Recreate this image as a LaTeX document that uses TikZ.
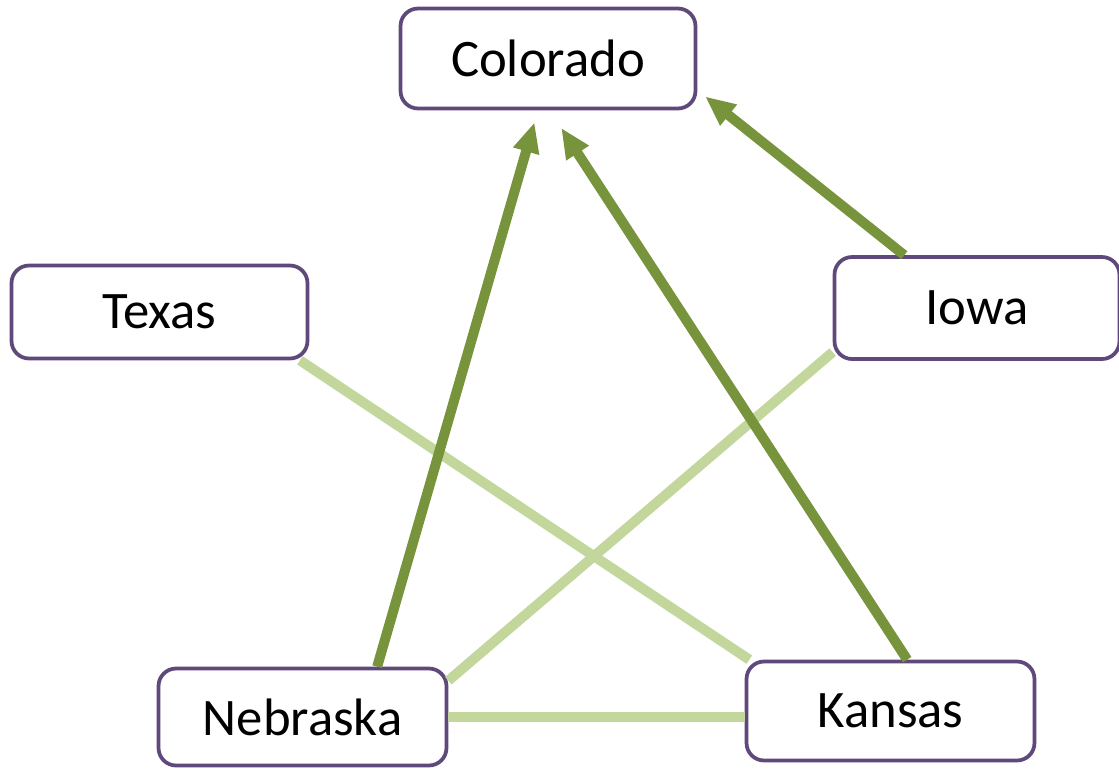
\documentclass[tikz,border=0pt]{standalone}
\usepackage{fontspec}
\setmainfont{Carlito}
\usetikzlibrary{arrows.meta}
\definecolor{boxpurple}{HTML}{5F497A}
\definecolor{darkgreen}{HTML}{77933C}
\definecolor{lightgreen}{HTML}{C3D69B}

\begin{document}
\begin{tikzpicture}[x=0.02cm, y=-0.02cm,
    state/.style={draw=boxpurple, line width=0.075cm, rounded corners=0.35cm, fill=white,
        inner sep=0pt, font=\fontsize{30}{36}\selectfont},
    link/.style={lightgreen, line width=0.2cm},
    flow/.style={darkgreen, line width=0.2cm, -{Triangle[length=0.6cm, width=0.5cm]}}]
    \useasboundingbox (0,0) rectangle (1119,768);

    % states
    \node[state, minimum width=5.9cm, minimum height=2cm] (col) at (548,58.5) {Colorado};
    \node[state, minimum width=5.92cm, minimum height=1.86cm] (tex) at (159.5,312) {Texas};
    \node[state, minimum width=5.7cm, minimum height=2.04cm] (iowa) at (977,308) {Iowa};
    \node[state, minimum width=5.76cm, minimum height=1.94cm] (neb) at (302.5,717) {Nebraska};
    \node[state, minimum width=5.76cm, minimum height=1.98cm] (kan) at (890.5,711) {Kansas};

    % light links
    \draw[link] (tex.341) -- (kan.160);
    \draw[link] (iowa.197) -- (neb.14);
    \draw[link] (neb.east) -- (neb.east -| kan.west);

    % arrows into Colorado
    \draw[flow, shorten >=0.25cm] (neb.34) -- (col.259.5);
    \draw[flow, shorten >=0.42cm] (kan.72) -- (col.272);
    \draw[flow, shorten >=0.2cm] (iowa.144) -- (col.348.6);
\end{tikzpicture}
\end{document}
